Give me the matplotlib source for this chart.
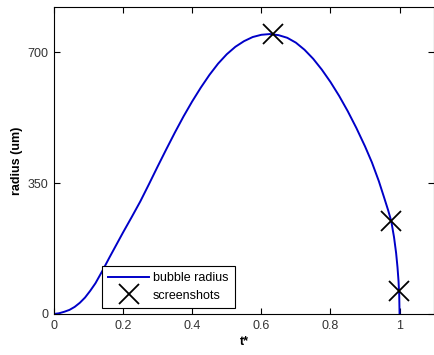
import matplotlib
matplotlib.use("Agg")
import matplotlib.pyplot as plt

plt.rcParams["font.family"] = ["Liberation Sans", "DejaVu Sans"]

# Data
t = [0, 0.015, 0.03, 0.045, 0.06, 0.075, 0.09, 0.105, 0.12, 0.14, 0.16,
     0.18, 0.2, 0.225, 0.25, 0.275, 0.3, 0.325, 0.35, 0.375, 0.4, 0.425,
     0.45, 0.475, 0.5, 0.525, 0.55, 0.575, 0.6, 0.625, 0.65, 0.675, 0.7,
     0.725, 0.75, 0.775, 0.8, 0.825, 0.85, 0.875, 0.9, 0.92, 0.94, 0.955,
     0.967, 0.976, 0.984, 0.99, 0.994, 0.997, 0.999, 1.0]
radius = [0, 2, 6, 11, 19, 30, 44, 62, 82, 115, 150,
          184, 218, 259, 301, 347, 394, 440, 485, 528, 568, 605,
          639, 669, 694, 714, 729, 740, 746, 748, 745, 738, 725,
          706, 682, 653, 620, 583, 542, 497, 448, 405, 355, 312,
          277, 248, 205, 163, 125, 88, 50, 0]
shot_t = [0.633, 0.976, 0.998]
shot_r = [747, 248, 62]

xticks = [0, 0.2, 0.4, 0.6, 0.8, 1.0]
xticklabels = ["0", "0.2", "0.4", "0.6", "0.8", "1"]
yticks = [0, 350, 700]

fig = plt.figure(figsize=(4.35, 3.55), dpi=100)
ax = fig.add_axes([0.124, 0.1155, 0.874, 0.8645])

ax.plot(t, radius, color="#0000c8", lw=1.4, label="bubble radius")
ax.plot(shot_t, shot_r, linestyle="none", marker="x", color="black",
        markersize=14, markeredgewidth=1.3, label="screenshots")

ax.set_xlim(0, 1.1)
ax.set_ylim(0, 820)
ax.set_xticks(xticks)
ax.set_xticklabels(xticklabels)
ax.set_yticks(yticks)
ax.tick_params(direction="in", top=True, right=True, length=4, width=0.8,
               labelsize=9, labelcolor="#333333")
ax.tick_params(axis="x", pad=4)
ax.tick_params(axis="y", pad=4)
for s in ax.spines.values():
    s.set_linewidth(0.8)

ax.set_xlabel("t*", fontsize=9, fontweight="bold", labelpad=3)
ax.set_ylabel("radius (um)", fontsize=9, fontweight="bold", labelpad=3.5)

leg = ax.legend(loc="lower left", bbox_to_anchor=(0.1255, 0.0195),
                borderaxespad=0, fontsize=9, fancybox=False, framealpha=1,
                edgecolor="black", handlelength=3.3, borderpad=0.5,
                labelspacing=0.45, handletextpad=0.3, markerscale=1.0)
leg.get_frame().set_linewidth(0.8)

fig.savefig("out.png", dpi=100)
